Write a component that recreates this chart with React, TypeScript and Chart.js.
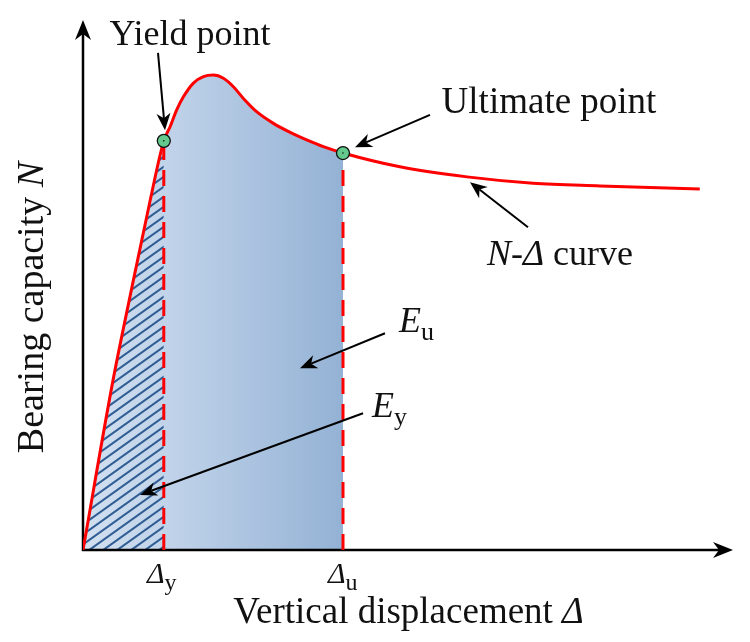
import React, { useEffect, useRef } from "react";
import { Chart, registerables } from "chart.js";

Chart.register(...registerables);

// Schematic N-Δ curve (arbitrary units)
const displacement = [0, 0.75, 1.18, 1.68, 2.02, 2.18, 2.34, 2.51, 2.76, 3.01, 3.26, 3.51, 3.76, 4.01, 4.34, 4.76, 5.18, 5.59, 6.01, 6.5, 7.92, 9.6, 11.25, 12.92, 15.42];
const capacity = [0, 32, 48, 66, 77.2, 79.9, 83.0, 85.5, 88.1, 89.3, 89.6, 89.0, 87.4, 85.2, 82.7, 80.5, 78.8, 77.4, 76.1, 74.9, 72.3, 70.4, 69.2, 68.7, 68.1];
const yieldIndex = 4;
const ultimateIndex = 19;
const axisMaxX = 16.25;
const axisMaxY = 100;

type Run = { t: string; italic?: boolean; size: number; dy?: number };
type Label = { x: number; y: number; align: "left" | "center"; runs: Run[] };

const labels: Label[] = [
  { x: 2.675, y: 95.3, align: "center", runs: [{ t: "Yield point", size: 36 }] },
  { x: 11.65, y: 82.45, align: "center", runs: [{ t: "Ultimate point", size: 37 }] },
  { x: 11.925, y: 53.8, align: "center", runs: [{ t: "N-Δ", italic: true, size: 36 }, { t: " curve", size: 36 }] },
  { x: 7.9, y: 41.1, align: "left", runs: [{ t: "E", italic: true, size: 36 }, { t: "u", size: 26, dy: 8 }] },
  { x: 7.225, y: 25.1, align: "left", runs: [{ t: "E", italic: true, size: 36 }, { t: "y", size: 26, dy: 8 }] },
  { x: 1.6, y: -6.2, align: "left", runs: [{ t: "Δ", italic: true, size: 30 }, { t: "y", size: 24, dy: 7 }] },
  { x: 6.125, y: -6.2, align: "left", runs: [{ t: "Δ", italic: true, size: 30 }, { t: "u", size: 24, dy: 7 }] },
  { x: 8.14, y: -13.8, align: "center", runs: [{ t: "Vertical displacement ", size: 37 }, { t: "Δ", italic: true, size: 37 }] },
];
const yTitle = { x: -1.0, y: 45.75, runs: [{ t: "Bearing capacity ", size: 38 }, { t: "N", italic: true, size: 38 }] as Run[] };

// pointer arrows: [tailX, tailY, tipX, tipY] in data units
const pointers = [
  [1.875, 93.8, 2.05, 79.2],
  [8.675, 82.1, 6.8, 76.0],
  [11.125, 60.9, 9.675, 69.4],
  [7.55, 40.9, 5.425, 34.3],
  [7.0, 25.8, 1.425, 10.4],
];

const FONT = '"Liberation Serif", "Times New Roman", serif';
const fontOf = (r: Run) => `${r.italic ? "italic " : ""}${r.size}px ${FONT}`;

function drawRuns(ctx: CanvasRenderingContext2D, runs: Run[], x: number, y: number, align: "left" | "center") {
  let total = 0;
  runs.forEach((r) => {
    ctx.font = fontOf(r);
    total += ctx.measureText(r.t).width;
  });
  let cx = align === "center" ? x - total / 2 : x;
  ctx.textAlign = "left";
  ctx.textBaseline = "alphabetic";
  runs.forEach((r) => {
    ctx.font = fontOf(r);
    ctx.fillText(r.t, cx, y + (r.dy || 0));
    cx += ctx.measureText(r.t).width;
  });
}

function arrow(ctx: CanvasRenderingContext2D, x1: number, y1: number, x2: number, y2: number, lw: number, L: number, W: number, notch: number) {
  const dx = x2 - x1, dy = y2 - y1;
  const len = Math.hypot(dx, dy);
  const ux = dx / len, uy = dy / len;
  const nx = -uy, ny = ux;
  ctx.beginPath();
  ctx.lineWidth = lw;
  ctx.moveTo(x1, y1);
  ctx.lineTo(x2 - ux * (L - notch), y2 - uy * (L - notch));
  ctx.stroke();
  ctx.beginPath();
  ctx.moveTo(x2, y2);
  ctx.lineTo(x2 - ux * L + nx * W, y2 - uy * L + ny * W);
  ctx.lineTo(x2 - ux * (L - notch), y2 - uy * (L - notch));
  ctx.lineTo(x2 - ux * L - nx * W, y2 - uy * L - ny * W);
  ctx.closePath();
  ctx.fill();
}

const schematic = {
  id: "schematic",
  afterDatasetDraw(chart: any, args: any) {
    if (args.index !== 1) return;
    const { ctx, scales } = chart;
    const x = scales.x, y = scales.y;
    const ox = x.getPixelForValue(0), oy = y.getPixelForValue(0);
    ctx.save();
    ctx.strokeStyle = "#000";
    ctx.fillStyle = "#000";
    arrow(ctx, ox - 1, oy, x.getPixelForValue(axisMaxX), oy, 2.5, 20, 8, 6);
    arrow(ctx, ox, oy + 1, ox, y.getPixelForValue(axisMaxY), 2.5, 20, 8, 6);
    ctx.restore();
  },
  afterDatasetsDraw(chart: any) {
    const { ctx, scales } = chart;
    const x = scales.x, y = scales.y;
    ctx.save();
    ctx.strokeStyle = "#000";
    ctx.fillStyle = "#000";
    pointers.forEach((p) => {
      arrow(ctx, x.getPixelForValue(p[0]), y.getPixelForValue(p[1]), x.getPixelForValue(p[2]), y.getPixelForValue(p[3]), 2, 17, 7, 5);
    });
    ctx.fillStyle = "#111";
    labels.forEach((l) => drawRuns(ctx, l.runs, x.getPixelForValue(l.x), y.getPixelForValue(l.y), l.align));
    ctx.save();
    ctx.translate(x.getPixelForValue(yTitle.x), y.getPixelForValue(yTitle.y));
    ctx.rotate(-Math.PI / 2);
    drawRuns(ctx, yTitle.runs, 0, 0, "center");
    ctx.restore();
    ctx.restore();
  },
};

function makeHatch(): CanvasPattern | string {
  const W = 14, H = 10;
  const c = document.createElement("canvas");
  c.width = W;
  c.height = H;
  const g = c.getContext("2d");
  if (!g) return "rgba(0,0,0,0)";
  g.strokeStyle = "#2f5d93";
  g.lineWidth = 2;
  for (let k = -1; k <= 1; k++) {
    g.beginPath();
    g.moveTo(-2, H + k * H + (2 * H) / W);
    g.lineTo(W + 2, k * H - (2 * H) / W);
    g.stroke();
  }
  const p = g.createPattern(c, "repeat");
  return p || "rgba(0,0,0,0)";
}

export default function App() {
  const ref = useRef<HTMLCanvasElement>(null);
  useEffect(() => {
    if (!ref.current) return;
    const pts = displacement.map((d, i) => ({ x: d, y: capacity[i] }));
    const fillPts = pts.slice(0, ultimateIndex + 1);
    const hatchPts = pts.slice(0, yieldIndex + 1);
    const dy = displacement[yieldIndex], du = displacement[ultimateIndex];
    const hatch = makeHatch();
    const chart = new Chart(ref.current, {
      type: "line",
      data: {
        datasets: [
          {
            data: fillPts,
            fill: "origin",
            borderWidth: 0,
            pointRadius: 0,
            cubicInterpolationMode: "monotone",
            order: 6,
            backgroundColor: (c: any) => {
              const ch = c.chart;
              if (!ch.chartArea) return "#b0c7e2";
              const g = ch.ctx.createLinearGradient(ch.scales.x.getPixelForValue(0), 0, ch.scales.x.getPixelForValue(du), 0);
              g.addColorStop(0, "#d2e0f0");
              g.addColorStop(0.3, "#c2d4ea");
              g.addColorStop(1, "#94b2d5");
              return g;
            },
          },
          {
            data: hatchPts,
            fill: "origin",
            borderWidth: 0,
            pointRadius: 0,
            cubicInterpolationMode: "monotone",
            order: 5,
            backgroundColor: hatch as any,
          },
          {
            data: [{ x: dy, y: 0 }, { x: dy, y: capacity[yieldIndex] }],
            borderColor: "#ff0000",
            borderWidth: 3,
            borderDash: [16, 10],
            pointRadius: 0,
            fill: false,
            order: 4,
          },
          {
            data: [{ x: du, y: 0 }, { x: du, y: capacity[ultimateIndex] }],
            borderColor: "#ff0000",
            borderWidth: 3,
            borderDash: [16, 10],
            pointRadius: 0,
            fill: false,
            order: 4,
          },
          {
            data: pts,
            borderColor: "#ff0000",
            borderWidth: 3,
            pointRadius: 0,
            fill: false,
            cubicInterpolationMode: "monotone",
            order: 3,
          },
          {
            data: [pts[yieldIndex], pts[ultimateIndex]],
            showLine: false,
            pointRadius: 6.5,
            pointBackgroundColor: "#63c98c",
            pointBorderColor: "#111",
            pointBorderWidth: 1.3,
            order: 2,
          },
          {
            data: [pts[yieldIndex], pts[ultimateIndex]],
            showLine: false,
            pointRadius: 0.8,
            pointBackgroundColor: "#111",
            pointBorderWidth: 0,
            order: 1,
          },
        ] as any,
      },
      options: {
        animation: false,
        responsive: false,
        layout: { padding: { left: 75, right: 9, top: 12, bottom: 84 } },
        plugins: { legend: { display: false }, tooltip: { enabled: false } },
        events: [],
        scales: {
          x: { type: "linear", min: 0, max: axisMaxX, display: false },
          y: { type: "linear", min: 0, max: axisMaxY, display: false },
        },
        elements: { line: { tension: 0 } },
      } as any,
      plugins: [schematic],
    });
    return () => chart.destroy();
  }, []);
  return (
    <div style={{ width: 734, height: 626 }}>
      <canvas ref={ref} width={734} height={626} style={{ display: "block" }} />
    </div>
  );
}
